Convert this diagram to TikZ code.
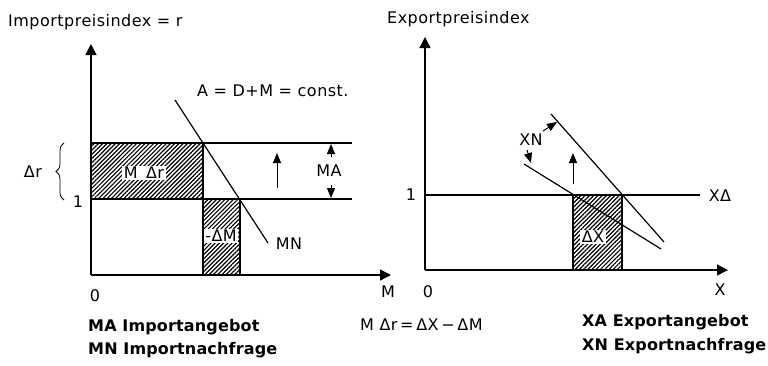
\documentclass[tikz,border=0pt]{standalone}
\usepackage{fontspec}
\setmainfont{DejaVu Sans}[LetterSpace=3]
\newfontfamily\legfont{DejaVu Sans}[LetterSpace=1]
\usetikzlibrary{arrows.meta,patterns.meta,decorations.pathreplacing}
\tikzset{
  lbl/.style={font=\fontsize{16}{18}\selectfont, inner sep=0pt},
  leg/.style={font=\legfont\bfseries\fontsize{16}{19}\selectfont, anchor=west, inner sep=0pt},
  wbox/.style={fill=white, inner sep=1.5pt},
  axisline/.style={line width=1.3pt, -{Triangle[length=11pt,width=11pt]}},
  levelline/.style={line width=1.6pt},
  demline/.style={line width=1.2pt},
  hatchbox/.style={draw, line width=1.6pt, pattern={Lines[angle=45,distance=3pt,line width=1.2pt]}},
  arr/.style={line width=1pt, -{Triangle[length=10pt,width=8pt]}},
}
\begin{document}
\begin{tikzpicture}[x=1pt,y=-1pt]
\useasboundingbox (0,0) rectangle (768,365);
% ---------- left diagram ----------
\coordinate (O1) at (91,275);
\coordinate (Y1) at (91,44);
\coordinate (X1) at (391,275);
\coordinate (T1) at (91,143);
\coordinate (T2) at (352,143);
\coordinate (L1) at (91,199);
\coordinate (L2) at (352,199);
\coordinate (R1a) at (203,143);
\coordinate (R1b) at (203,199);
\coordinate (R2b) at (240,275);
\coordinate (MNs) at (175,100);
\coordinate (MNe) at (268,243);
\coordinate (UA1) at (277,188);
\coordinate (UA2) at (277,153);
\coordinate (MAa1) at (331,157);
\coordinate (MAa2) at (331,144);
\coordinate (MAb1) at (331,185);
\coordinate (MAb2) at (331,198);
\coordinate (BrB) at (64,200);
\coordinate (BrT) at (64,143);

\path[hatchbox] (T1) rectangle (R1b);
\path[hatchbox] (R1b) rectangle (R2b);
\draw[levelline] (T1) -- (T2);
\draw[levelline] (L1) -- (L2);
\draw[axisline] (O1) -- (Y1);
\draw[axisline] (O1) -- (X1);
\draw[demline] (MNs) -- (MNe);
\draw[arr] (UA1) -- (UA2);
\draw[arr] (MAa1) -- (MAa2);
\draw[arr] (MAb1) -- (MAb2);
\draw[line width=0.8pt, decorate, decoration={brace, amplitude=8pt}] (BrB) -- (BrT);

\node[lbl, anchor=west] (ti1) at (8,22) {Importpreisindex = r};
\node[lbl, anchor=west] (adm) at (197,91) {A = D+M = const.};
\node[lbl, wbox] (mdr) at (144,173) {M\ \,Δr};
\node[lbl, wbox] (dm) at (221,236) {-ΔM};
\node[lbl] (mn) at (289,244) {MN};
\node[lbl] (ma) at (329,171) {MA};
\node[lbl] (dr) at (33,172) {Δr};
\node[lbl] (one1) at (78,202) {1};
\node[lbl] (zero1) at (95,296) {0};
\node[lbl] (mx) at (388,292) {M};

% ---------- right diagram ----------
\coordinate (O2) at (425,270);
\coordinate (Y2) at (425,37);
\coordinate (X2) at (728,270);
\coordinate (H1) at (425,195);
\coordinate (H2) at (700,195);
\coordinate (R3a) at (573,195);
\coordinate (R3b) at (622,270);
\coordinate (UPs) at (551,114);
\coordinate (UPe) at (664,242);
\coordinate (LOs) at (524,164);
\coordinate (LOe) at (661,249);
\coordinate (UB1) at (573,184);
\coordinate (UB2) at (573,153);
\coordinate (XNa1) at (543,131);
\coordinate (XNa2) at (557,122);
\coordinate (XNb1) at (527,150);
\coordinate (XNb2) at (531,163);

\path[hatchbox] (R3a) rectangle (R3b);
\draw[levelline] (H1) -- (H2);
\draw[axisline] (O2) -- (Y2);
\draw[axisline] (O2) -- (X2);
\draw[demline] (UPs) -- (UPe);
\draw[demline] (LOs) -- (LOe);
\draw[arr] (UB1) -- (UB2);
\draw[arr] (XNa1) -- (XNa2);
\draw[arr] (XNb1) -- (XNb2);

\node[lbl, anchor=west] (ti2) at (387,19) {Exportpreisindex};
\node[lbl] (xn) at (531,140) {XN};
\node[lbl] (xd) at (720,196) {XΔ};
\node[lbl] (one2) at (411,195) {1};
\node[lbl] (zero2) at (428,292) {0};
\node[lbl] (xx) at (720,290) {X};
\node[lbl, wbox] (dx) at (593,237) {ΔX};

% ---------- legend ----------
\node[leg] (lg1) at (88,327) {MA Importangebot};
\node[leg] (lg2) at (88,350) {MN Importnachfrage};
\node[lbl, anchor=west] (eq) at (360,325) {M Δr\,=\,ΔX\,−\,ΔM};
\node[leg] (lg3) at (582,322) {XA Exportangebot};
\node[leg] (lg4) at (582,346) {XN Exportnachfrage};
\end{tikzpicture}
\end{document}
